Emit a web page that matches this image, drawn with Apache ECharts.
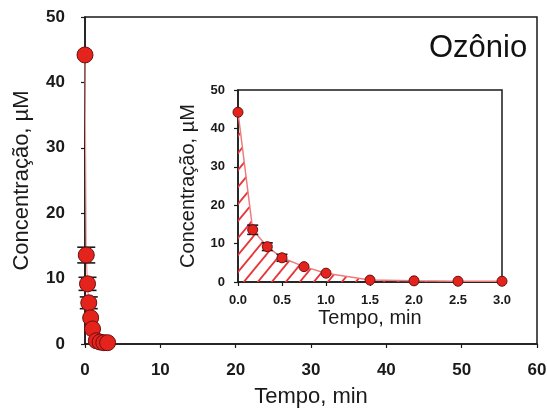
<!DOCTYPE html>
<html>
<head>
<meta charset="utf-8">
<script src="https://cdn.jsdelivr.net/npm/echarts@6/dist/echarts.min.js"></script>
<style>
  html, body { margin: 0; padding: 0; background: #fff; }
  #chart { width: 547px; height: 409px; }
</style>
</head>
<body>
<div id="chart"></div>
<script>
// Ozone concentration decay over time (min), with a zoomed inset of the first 3 minutes
const tempo = [0, 0.167, 0.333, 0.5, 0.75, 1.0, 1.5, 2.0, 2.5, 3.0];
const conc  = [44.2, 13.6, 9.2, 6.3, 4.0, 2.3, 0.5, 0.3, 0.2, 0.2];
const erro  = [0, 1.2, 1.0, 0.9, 0, 0, 0, 0, 0, 0];
const mainXTicks = [0, 10, 20, 30, 40, 50, 60];
const mainYTicks = [0, 10, 20, 30, 40, 50];
const insetXTicks = [0, 0.5, 1.0, 1.5, 2.0, 2.5, 3.0];
const insetYTicks = [0, 10, 20, 30, 40, 50];

const FONT = "'Liberation Sans', Arial, sans-serif";
const TXT = '#1a1a1a';
const RED = '#e3231c';
const RED_EDGE = '#6e0f0f';

const points = tempo.map((t, i) => [t, conc[i]]);
const errPoints = tempo.map((t, i) => [t, conc[i], erro[i]]);

// diagonal hatch tile for the area under the inset curve
function hatchPattern() {
  const w = 14, h = 17;
  const c = document.createElement('canvas');
  c.width = w; c.height = h;
  const g = c.getContext('2d');
  g.strokeStyle = '#e8343a';
  g.lineWidth = 1.8;
  for (let n = 0; n <= 2; n++) {
    g.beginPath();
    g.moveTo(-w, h * (n + 1));
    g.lineTo(2 * w, h * (n - 2));
    g.stroke();
  }
  return c;
}

function errorBars(capHalf, width) {
  return function (params, api) {
    const x = api.value(0), y = api.value(1), e = api.value(2);
    if (!e) return null;
    const top = api.coord([x, y + e]);
    const bot = api.coord([x, y - e]);
    const st = { stroke: '#1a1a1a', lineWidth: width };
    return {
      type: 'group',
      children: [
        { type: 'line', shape: { x1: top[0], y1: top[1], x2: bot[0], y2: bot[1] }, style: st },
        { type: 'line', shape: { x1: top[0] - capHalf, y1: top[1], x2: top[0] + capHalf, y2: top[1] }, style: st },
        { type: 'line', shape: { x1: bot[0] - capHalf, y1: bot[1], x2: bot[0] + capHalf, y2: bot[1] }, style: st }
      ]
    };
  };
}

function axisCommon(min, max, interval, fontSize, labelMargin, fmt) {
  return {
    min: min, max: max, interval: interval,
    axisLine: { show: true, lineStyle: { color: '#1a1a1a', width: 1.5 } },
    axisTick: { show: true, inside: false, length: 4, lineStyle: { color: '#1a1a1a', width: 1.2 } },
    splitLine: { show: false },
    axisLabel: {
      color: TXT, fontFamily: FONT, fontWeight: 'bold', fontSize: fontSize,
      margin: labelMargin, formatter: fmt
    }
  };
}

const chart = echarts.init(document.getElementById('chart'), null, { renderer: 'canvas' });

chart.setOption({
  backgroundColor: '#fff',
  animation: false,
  grid: [
    { left: 85, top: 17, width: 452, height: 327, outerBoundsMode: 'none', containLabel: false,
      show: true, borderColor: '#1a1a1a', borderWidth: 1.5 },
    { left: 238, top: 90, width: 264, height: 192, outerBoundsMode: 'none', containLabel: false,
      show: true, borderColor: '#1a1a1a', borderWidth: 1.5 }
  ],
  xAxis: [
    Object.assign(axisCommon(mainXTicks[0], mainXTicks[mainXTicks.length - 1], mainXTicks[1] - mainXTicks[0], 17, 18,
      v => String(v)), {
      type: 'value', gridIndex: 0,
      name: 'Tempo, min', nameLocation: 'middle', nameGap: 42,
      nameTextStyle: { color: TXT, fontFamily: FONT, fontSize: 22 }
    }),
    Object.assign(axisCommon(insetXTicks[0], insetXTicks[insetXTicks.length - 1], insetXTicks[1] - insetXTicks[0], 13, 12,
      v => v.toFixed(1)), {
      type: 'value', gridIndex: 1,
      name: 'Tempo, min', nameLocation: 'middle', nameGap: 26,
      nameTextStyle: { color: TXT, fontFamily: FONT, fontSize: 20 }
    })
  ],
  yAxis: [
    Object.assign(axisCommon(mainYTicks[0], mainYTicks[mainYTicks.length - 1], mainYTicks[1] - mainYTicks[0], 17, 20,
      v => String(v)), {
      type: 'value', gridIndex: 0,
      name: 'Concentração, µM', nameLocation: 'middle', nameGap: 52,
      nameTextStyle: { color: TXT, fontFamily: FONT, fontSize: 22 }
    }),
    Object.assign(axisCommon(insetYTicks[0], insetYTicks[insetYTicks.length - 1], insetYTicks[1] - insetYTicks[0], 13, 13,
      v => String(v)), {
      type: 'value', gridIndex: 1,
      name: 'Concentração, µM', nameLocation: 'middle', nameGap: 40,
      nameTextStyle: { color: TXT, fontFamily: FONT, fontSize: 20 }
    })
  ],
  graphic: [
    {
      type: 'text', left: 429, top: 33,
      style: { text: 'Ozônio', fill: '#111', font: "31px 'Liberation Sans', Arial, sans-serif" }
    }
  ],
  series: [
    // main panel
    {
      type: 'line', xAxisIndex: 0, yAxisIndex: 0, data: points,
      showSymbol: false, symbol: 'none', z: 2,
      lineStyle: { color: '#f19a9a', width: 1.2 }
    },
    {
      type: 'custom', xAxisIndex: 0, yAxisIndex: 0, data: errPoints,
      encode: { x: 0, y: 1 }, renderItem: errorBars(9, 1.6), z: 3
    },
    {
      type: 'scatter', xAxisIndex: 0, yAxisIndex: 0, data: points,
      symbol: 'circle', symbolSize: 16, z: 4,
      itemStyle: { color: RED, borderColor: RED_EDGE, borderWidth: 1, opacity: 1 }
    },
    // inset panel
    {
      type: 'line', xAxisIndex: 1, yAxisIndex: 1, data: points,
      showSymbol: false, symbol: 'none', z: 2,
      lineStyle: { color: '#ee7b7b', width: 1.5 },
      areaStyle: { color: { image: hatchPattern(), repeat: 'repeat' }, opacity: 1 }
    },
    {
      type: 'custom', xAxisIndex: 1, yAxisIndex: 1, data: errPoints,
      encode: { x: 0, y: 1 }, renderItem: errorBars(5.5, 1.6), z: 3
    },
    {
      type: 'scatter', xAxisIndex: 1, yAxisIndex: 1, data: points,
      symbol: 'circle', symbolSize: 10, z: 4,
      itemStyle: { color: RED, borderColor: RED_EDGE, borderWidth: 1, opacity: 1 }
    }
  ]
});
</script>
</body>
</html>
